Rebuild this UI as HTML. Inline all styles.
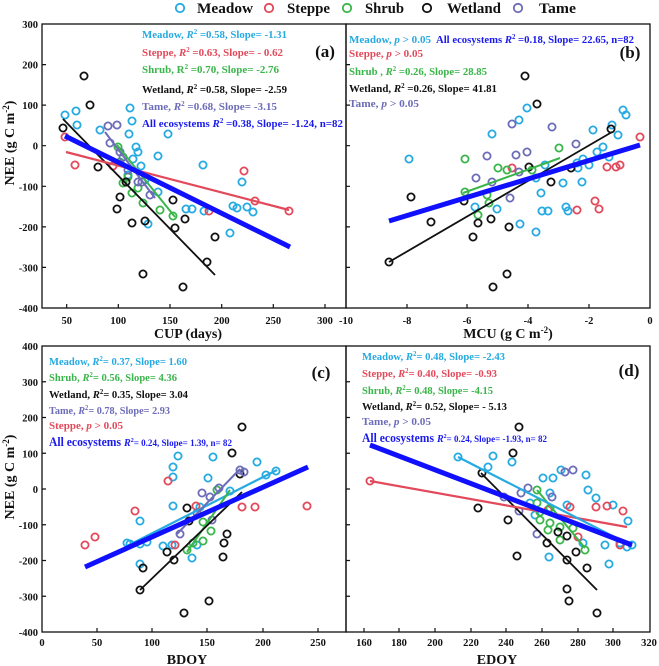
<!DOCTYPE html>
<html><head><meta charset="utf-8"><style>
html,body{margin:0;padding:0;background:#fff;}
svg{display:block;}
text{font-family:"Liberation Serif",serif;font-weight:bold;}
</style></head><body>
<svg width="659" height="666" viewBox="0 0 659 666" xmlns="http://www.w3.org/2000/svg">
<!-- Legend -->
<g fill="none" stroke-width="1.8">
<circle cx="180" cy="8" r="4.2" stroke="#25aae1"/>
<circle cx="269" cy="8" r="4.2" stroke="#e2495a"/>
<circle cx="347" cy="8" r="4.2" stroke="#39b54a"/>
<circle cx="427" cy="8" r="4.2" stroke="#111"/>
<circle cx="518" cy="8" r="4.2" stroke="#6c6cb8"/>
</g>
<g font-size="15" fill="#111">
<text x="197" y="13" textLength="56" lengthAdjust="spacingAndGlyphs">Meadow</text>
<text x="287" y="13" textLength="43" lengthAdjust="spacingAndGlyphs">Steppe</text>
<text x="365" y="13" textLength="39" lengthAdjust="spacingAndGlyphs">Shrub</text>
<text x="447" y="13" textLength="54" lengthAdjust="spacingAndGlyphs">Wetland</text>
<text x="539" y="13" textLength="37" lengthAdjust="spacingAndGlyphs">Tame</text>
</g>

<!-- Frames -->
<g fill="none" stroke="#111" stroke-width="1.3">
<rect x="42" y="24" width="304" height="284"/>
<rect x="346" y="24" width="304" height="284"/>
<rect x="42" y="346" width="304" height="286"/>
<rect x="346" y="346" width="304" height="286"/>
</g>

<!-- Ticks -->
<g stroke="#111" stroke-width="1.2">
<!-- top row y ticks -->
<path d="M42 64.6h4M42 105.1h4M42 145.7h4M42 186.3h4M42 226.9h4M42 267.4h4"/>
<path d="M346 64.6h4M346 105.1h4M346 145.7h4M346 186.3h4M346 226.9h4M346 267.4h4"/>
<!-- bottom row y ticks -->
<path d="M42 381.75h4M42 417.5h4M42 453.25h4M42 489h4M42 524.75h4M42 560.5h4M42 596.25h4"/>
<path d="M346 381.75h4M346 417.5h4M346 453.25h4M346 489h4M346 524.75h4M346 560.5h4M346 596.25h4"/>
<!-- a x ticks -->
<path d="M66.7 308v-4M118.3 308v-4M170 308v-4M221.7 308v-4M273.3 308v-4M325 308v-4"/>
<!-- b x ticks -->
<path d="M407 308v-4M467 308v-4M528 308v-4M589 308v-4"/>
<!-- c x ticks -->
<path d="M97 632v-4M152 632v-4M207 632v-4M263 632v-4M318 632v-4"/>
<!-- d x ticks -->
<path d="M364 632v-4M399 632v-4M435 632v-4M471 632v-4M506 632v-4M542 632v-4M578 632v-4M613 632v-4"/>
</g>

<!-- Tick labels -->
<g font-size="10.5" fill="#111" text-anchor="end">
<text x="38" y="28">300</text><text x="38" y="68.6">200</text><text x="38" y="109.1">100</text><text x="38" y="149.7">0</text>
<text x="38" y="190.3">-100</text><text x="38" y="230.9">-200</text><text x="38" y="271.4">-300</text><text x="38" y="312">-400</text>
<text x="38" y="350">400</text><text x="38" y="385.75">300</text><text x="38" y="421.5">200</text><text x="38" y="457.25">100</text><text x="38" y="493">0</text>
<text x="38" y="528.75">-100</text><text x="38" y="564.5">-200</text><text x="38" y="600.25">-300</text><text x="38" y="636">-400</text>
</g>
<g font-size="10.5" fill="#111" text-anchor="middle">
<text x="66.7" y="324">50</text><text x="118.3" y="324">100</text><text x="170" y="324">150</text><text x="221.7" y="324">200</text><text x="273.3" y="324">250</text><text x="325" y="324">300</text>
<text x="346" y="324">-10</text><text x="407" y="324">-8</text><text x="467" y="324">-6</text><text x="528" y="324">-4</text><text x="589" y="324">-2</text><text x="650" y="324">0</text>
<text x="42" y="646">0</text><text x="97" y="646">50</text><text x="152" y="646">100</text><text x="207" y="646">150</text><text x="263" y="646">200</text><text x="318" y="646">250</text>
<text x="364" y="646">160</text><text x="399" y="646">180</text><text x="435" y="646">200</text><text x="471" y="646">220</text><text x="506" y="646">240</text><text x="542" y="646">260</text><text x="578" y="646">280</text><text x="613" y="646">300</text><text x="649" y="646">320</text>
</g>

<!-- Axis titles -->
<g font-size="14" fill="#111" text-anchor="middle">
<text x="188" y="338">CUP (days)</text>
<text x="508" y="338">MCU (g C m<tspan font-size="9" dy="-5">-2</tspan><tspan dy="5">)</tspan></text>
<text x="187" y="664">BDOY</text>
<text x="497" y="664">EDOY</text>
<text transform="translate(14,143) rotate(-90)">NEE (g C m<tspan font-size="9" dy="-5">-2</tspan><tspan dy="5">)</tspan></text>
<text transform="translate(14,477) rotate(-90)">NEE (g C m<tspan font-size="9" dy="-5">-2</tspan><tspan dy="5">)</tspan></text>
</g>

<!-- Panel labels -->
<g font-size="17" fill="#111" text-anchor="middle">
<text x="325" y="57">(a)</text>
<text x="630" y="58">(b)</text>
<text x="321" y="378">(c)</text>
<text x="629" y="376">(d)</text>
</g>

<!-- ===== Panel a ===== -->
<g fill="none" stroke-width="1.8">
<g stroke="#25aae1">
<circle cx="65" cy="115" r="3.6"/><circle cx="76" cy="111" r="3.6"/><circle cx="77" cy="125" r="3.6"/><circle cx="100" cy="130" r="3.6"/>
<circle cx="130" cy="108" r="3.6"/><circle cx="132" cy="121" r="3.6"/><circle cx="129" cy="134" r="3.6"/><circle cx="136" cy="147" r="3.6"/>
<circle cx="133" cy="159" r="3.6"/><circle cx="141" cy="166" r="3.6"/><circle cx="158" cy="156" r="3.6"/><circle cx="168" cy="134" r="3.6"/>
<circle cx="158" cy="192" r="3.6"/><circle cx="148" cy="224" r="3.6"/><circle cx="186" cy="209" r="3.6"/><circle cx="192" cy="209" r="3.6"/>
<circle cx="203" cy="165" r="3.6"/><circle cx="204" cy="211" r="3.6"/><circle cx="230" cy="233" r="3.6"/><circle cx="233" cy="206" r="3.6"/>
<circle cx="237" cy="208" r="3.6"/><circle cx="242" cy="182" r="3.6"/><circle cx="247" cy="207" r="3.6"/><circle cx="253" cy="212" r="3.6"/>
<circle cx="138" cy="152" r="3.6"/><circle cx="128" cy="175" r="3.6"/><circle cx="145" cy="180" r="3.6"/>
</g>
<g stroke="#e2495a">
<circle cx="65" cy="137" r="3.6"/><circle cx="75" cy="165" r="3.6"/><circle cx="113" cy="166" r="3.6"/><circle cx="209" cy="211" r="3.6"/>
<circle cx="244" cy="171" r="3.6"/><circle cx="255" cy="201" r="3.6"/><circle cx="289" cy="211" r="3.6"/>
</g>
<g stroke="#39b54a">
<circle cx="118" cy="147" r="3.6"/><circle cx="120" cy="162" r="3.6"/><circle cx="128" cy="177" r="3.6"/><circle cx="123" cy="183" r="3.6"/>
<circle cx="138" cy="188" r="3.6"/><circle cx="143" cy="203" r="3.6"/><circle cx="160" cy="210" r="3.6"/><circle cx="173" cy="216" r="3.6"/><circle cx="132" cy="193" r="3.6"/>
</g>
<g stroke="#111">
<circle cx="63" cy="128" r="3.6"/><circle cx="84" cy="76" r="3.6"/><circle cx="90" cy="105" r="3.6"/><circle cx="98" cy="167" r="3.6"/>
<circle cx="117" cy="209" r="3.6"/><circle cx="120" cy="197" r="3.6"/><circle cx="126" cy="182" r="3.6"/><circle cx="132" cy="223" r="3.6"/>
<circle cx="143" cy="274" r="3.6"/><circle cx="145" cy="221" r="3.6"/><circle cx="173" cy="200" r="3.6"/><circle cx="175" cy="228" r="3.6"/>
<circle cx="183" cy="287" r="3.6"/><circle cx="185" cy="219" r="3.6"/><circle cx="207" cy="262" r="3.6"/><circle cx="215" cy="237" r="3.6"/>
</g>
<g stroke="#6c6cb8">
<circle cx="108" cy="126" r="3.6"/><circle cx="117" cy="125" r="3.6"/><circle cx="110" cy="143" r="3.6"/><circle cx="120" cy="152" r="3.6"/>
<circle cx="123" cy="157" r="3.6"/><circle cx="128" cy="170" r="3.6"/><circle cx="138" cy="182" r="3.6"/><circle cx="150" cy="195" r="3.6"/><circle cx="142" cy="182" r="3.6"/>
</g>
</g>
<g stroke-linecap="butt">
<line x1="105" y1="132" x2="155" y2="198" stroke="#6c6cb8" stroke-width="2"/>
<line x1="117" y1="145" x2="175" y2="217" stroke="#39b54a" stroke-width="2"/>
<line x1="63" y1="119" x2="215" y2="275" stroke="#111" stroke-width="1.8"/>
<line x1="66" y1="152" x2="289" y2="210" stroke="#e2495a" stroke-width="2.2"/>
<line x1="65" y1="136" x2="290" y2="247" stroke="#1010ff" stroke-width="5"/>
</g>
<g font-size="11">
<text x="142" y="38" fill="#25aae1" textLength="145" lengthAdjust="spacingAndGlyphs">Meadow, <tspan font-style="italic">R</tspan><tspan font-size="7" dy="-4">2</tspan><tspan dy="4"> =0.58, Slope= -1.31</tspan></text>
<text x="142" y="56" fill="#e2495a" textLength="141" lengthAdjust="spacingAndGlyphs">Steppe, <tspan font-style="italic">R</tspan><tspan font-size="7" dy="-4">2</tspan><tspan dy="4"> =0.63, Slope= - 0.62</tspan></text>
<text x="142" y="73" fill="#39b54a" textLength="137" lengthAdjust="spacingAndGlyphs">Shrub, R<tspan font-size="7" dy="-4">2</tspan><tspan dy="4"> =0.70, Slope= -2.76</tspan></text>
<text x="142" y="93" fill="#111" textLength="145" lengthAdjust="spacingAndGlyphs">Wetland, <tspan font-style="italic">R</tspan><tspan font-size="7" dy="-4">2</tspan><tspan dy="4"> =0.58, Slope= -2.59</tspan></text>
<text x="142" y="110" fill="#6c6cb8" textLength="135" lengthAdjust="spacingAndGlyphs">Tame,  <tspan font-style="italic">R</tspan><tspan font-size="7" dy="-4">2</tspan><tspan dy="4"> =0.68, Slope= -3.15</tspan></text>
<text x="142" y="127" fill="#1a1aee" textLength="201" lengthAdjust="spacingAndGlyphs">All ecosystems  <tspan font-style="italic">R</tspan><tspan font-size="7" dy="-4">2</tspan><tspan dy="4"> =0.38, Slope= -1.24, n=82</tspan></text>
</g>

<!-- ===== Panel b ===== -->
<g fill="none" stroke-width="1.8">
<g stroke="#25aae1">
<circle cx="409" cy="159" r="3.6"/><circle cx="492" cy="134" r="3.6"/><circle cx="519" cy="120" r="3.6"/><circle cx="527" cy="108" r="3.6"/>
<circle cx="475" cy="207" r="3.6"/><circle cx="497" cy="209" r="3.6"/><circle cx="520" cy="224" r="3.6"/><circle cx="536" cy="232" r="3.6"/>
<circle cx="541" cy="193" r="3.6"/><circle cx="542" cy="211" r="3.6"/><circle cx="548" cy="211" r="3.6"/><circle cx="536" cy="178" r="3.6"/>
<circle cx="545" cy="165" r="3.6"/><circle cx="563" cy="183" r="3.6"/><circle cx="566" cy="207" r="3.6"/><circle cx="568" cy="211" r="3.6"/>
<circle cx="577" cy="163" r="3.6"/><circle cx="578" cy="168" r="3.6"/><circle cx="582" cy="182" r="3.6"/><circle cx="583" cy="159" r="3.6"/>
<circle cx="589" cy="165" r="3.6"/><circle cx="593" cy="130" r="3.6"/><circle cx="597" cy="152" r="3.6"/><circle cx="603" cy="147" r="3.6"/>
<circle cx="609" cy="157" r="3.6"/><circle cx="612" cy="125" r="3.6"/><circle cx="618" cy="135" r="3.6"/><circle cx="623" cy="110" r="3.6"/><circle cx="626" cy="115" r="3.6"/>
</g>
<g stroke="#e2495a">
<circle cx="640" cy="137" r="3.6"/><circle cx="607" cy="167" r="3.6"/><circle cx="616" cy="167" r="3.6"/><circle cx="620" cy="165" r="3.6"/>
<circle cx="595" cy="201" r="3.6"/><circle cx="599" cy="209" r="3.6"/><circle cx="577" cy="210" r="3.6"/><circle cx="512" cy="168" r="3.6"/>
</g>
<g stroke="#39b54a">
<circle cx="465" cy="159" r="3.6"/><circle cx="559" cy="148" r="3.6"/><circle cx="498" cy="168" r="3.6"/><circle cx="507" cy="170" r="3.6"/>
<circle cx="532" cy="170" r="3.6"/><circle cx="465" cy="192" r="3.6"/><circle cx="478" cy="215" r="3.6"/><circle cx="487" cy="195" r="3.6"/><circle cx="489" cy="203" r="3.6"/>
</g>
<g stroke="#111">
<circle cx="525" cy="76" r="3.6"/><circle cx="537" cy="104" r="3.6"/><circle cx="611" cy="129" r="3.6"/><circle cx="529" cy="167" r="3.6"/>
<circle cx="571" cy="168" r="3.6"/><circle cx="551" cy="182" r="3.6"/><circle cx="464" cy="201" r="3.6"/><circle cx="411" cy="197" r="3.6"/>
<circle cx="431" cy="222" r="3.6"/><circle cx="478" cy="223" r="3.6"/><circle cx="491" cy="219" r="3.6"/><circle cx="509" cy="227" r="3.6"/>
<circle cx="473" cy="237" r="3.6"/><circle cx="389" cy="262" r="3.6"/><circle cx="507" cy="274" r="3.6"/><circle cx="493" cy="287" r="3.6"/>
</g>
<g stroke="#6c6cb8">
<circle cx="512" cy="124" r="3.6"/><circle cx="552" cy="127" r="3.6"/><circle cx="576" cy="144" r="3.6"/><circle cx="487" cy="156" r="3.6"/>
<circle cx="516" cy="155" r="3.6"/><circle cx="527" cy="152" r="3.6"/><circle cx="476" cy="178" r="3.6"/><circle cx="492" cy="182" r="3.6"/>
<circle cx="519" cy="172" r="3.6"/><circle cx="510" cy="198" r="3.6"/>
</g>
</g>
<g>
<line x1="463" y1="193" x2="560" y2="158" stroke="#39b54a" stroke-width="2"/>
<line x1="389" y1="262" x2="612" y2="132" stroke="#111" stroke-width="1.8"/>
<line x1="389" y1="221" x2="640" y2="145" stroke="#1010ff" stroke-width="5"/>
</g>
<g font-size="11">
<text x="349" y="43" fill="#25aae1" textLength="82" lengthAdjust="spacingAndGlyphs">Meadow, <tspan font-style="italic">p</tspan> &gt; 0.05</text>
<text x="436" y="43" fill="#1a1aee" textLength="198" lengthAdjust="spacingAndGlyphs">All ecosystems <tspan font-style="italic">R</tspan><tspan font-size="7" dy="-4">2</tspan><tspan dy="4"> =0.18, Slope= 22.65, n=82</tspan></text>
<text x="349" y="57" fill="#e2495a" textLength="74" lengthAdjust="spacingAndGlyphs">Steppe,  <tspan font-style="italic">p</tspan> &gt; 0.05</text>
<text x="349" y="75" fill="#39b54a" textLength="138" lengthAdjust="spacingAndGlyphs">Shrub , <tspan font-style="italic">R</tspan><tspan font-size="7" dy="-4">2</tspan><tspan dy="4"> =0.26, Slope= 28.85</tspan></text>
<text x="349" y="92" fill="#111" textLength="148" lengthAdjust="spacingAndGlyphs">Wetland,  <tspan font-style="italic">R</tspan><tspan font-size="7" dy="-4">2</tspan><tspan dy="4"> =0.26, Slope= 41.81</tspan></text>
<text x="349" y="107" fill="#6c6cb8" textLength="70" lengthAdjust="spacingAndGlyphs">Tame,  <tspan font-style="italic">p</tspan> &gt; 0.05</text>
</g>

<!-- ===== Panel c ===== -->
<g fill="none" stroke-width="1.8">
<g stroke="#25aae1">
<circle cx="173" cy="477" r="3.6"/><circle cx="173" cy="467" r="3.6"/><circle cx="178" cy="456" r="3.6"/><circle cx="213" cy="457" r="3.6"/>
<circle cx="208" cy="478" r="3.6"/><circle cx="257" cy="462" r="3.6"/><circle cx="266" cy="475" r="3.6"/><circle cx="276" cy="471" r="3.6"/>
<circle cx="173" cy="506" r="3.6"/><circle cx="140" cy="521" r="3.6"/><circle cx="130" cy="544" r="3.6"/><circle cx="140" cy="544" r="3.6"/>
<circle cx="147" cy="542" r="3.6"/><circle cx="140" cy="564" r="3.6"/><circle cx="163" cy="546" r="3.6"/><circle cx="172" cy="545" r="3.6"/>
<circle cx="192" cy="558" r="3.6"/><circle cx="197" cy="545" r="3.6"/><circle cx="200" cy="507" r="3.6"/><circle cx="230" cy="491" r="3.6"/><circle cx="127" cy="543" r="3.6"/>
</g>
<g stroke="#e2495a">
<circle cx="85" cy="545" r="3.6"/><circle cx="95" cy="537" r="3.6"/><circle cx="135" cy="511" r="3.6"/><circle cx="168" cy="481" r="3.6"/>
<circle cx="196" cy="506" r="3.6"/><circle cx="242" cy="507" r="3.6"/><circle cx="255" cy="507" r="3.6"/><circle cx="307" cy="506" r="3.6"/><circle cx="175" cy="545" r="3.6"/>
</g>
<g stroke="#39b54a">
<circle cx="217" cy="490" r="3.6"/><circle cx="187" cy="550" r="3.6"/><circle cx="203" cy="541" r="3.6"/><circle cx="211" cy="531" r="3.6"/>
<circle cx="193" cy="543" r="3.6"/><circle cx="203" cy="522" r="3.6"/>
</g>
<g stroke="#111">
<circle cx="242" cy="427" r="3.6"/><circle cx="232" cy="453" r="3.6"/><circle cx="240" cy="474" r="3.6"/><circle cx="187" cy="508" r="3.6"/>
<circle cx="189" cy="521" r="3.6"/><circle cx="167" cy="552" r="3.6"/><circle cx="174" cy="560" r="3.6"/><circle cx="227" cy="534" r="3.6"/>
<circle cx="224" cy="543" r="3.6"/><circle cx="223" cy="557" r="3.6"/><circle cx="143" cy="568" r="3.6"/><circle cx="140" cy="590" r="3.6"/>
<circle cx="209" cy="601" r="3.6"/><circle cx="184" cy="613" r="3.6"/>
</g>
<g stroke="#6c6cb8">
<circle cx="240" cy="470" r="3.6"/><circle cx="244" cy="472" r="3.6"/><circle cx="219" cy="488" r="3.6"/><circle cx="202" cy="493" r="3.6"/>
<circle cx="210" cy="497" r="3.6"/><circle cx="180" cy="534" r="3.6"/><circle cx="197" cy="513" r="3.6"/><circle cx="212" cy="520" r="3.6"/>
</g>
</g>
<g>
<line x1="127" y1="546" x2="277" y2="470" stroke="#25aae1" stroke-width="2.2"/>
<line x1="187" y1="552" x2="230" y2="490" stroke="#39b54a" stroke-width="2"/>
<line x1="177" y1="534" x2="240" y2="469" stroke="#6c6cb8" stroke-width="2"/>
<line x1="140" y1="590" x2="242" y2="492" stroke="#111" stroke-width="1.8"/>
<line x1="85" y1="567" x2="308" y2="467" stroke="#1010ff" stroke-width="5"/>
</g>
<g font-size="11">
<text x="49" y="365" fill="#25aae1" textLength="138" lengthAdjust="spacingAndGlyphs">Meadow, <tspan font-style="italic">R</tspan><tspan font-size="7" dy="-4">2</tspan><tspan dy="4">= 0.37, Slope= 1.60</tspan></text>
<text x="49" y="381" fill="#39b54a" textLength="128" lengthAdjust="spacingAndGlyphs">Shrub, <tspan font-style="italic">R</tspan><tspan font-size="7" dy="-4">2</tspan><tspan dy="4">= 0.56, Slope= 4.36</tspan></text>
<text x="49" y="398" fill="#111" textLength="139" lengthAdjust="spacingAndGlyphs">Wetland, <tspan font-style="italic">R</tspan><tspan font-size="7" dy="-4">2</tspan><tspan dy="4">= 0.35, Slope= 3.04</tspan></text>
<text x="49" y="414" fill="#6c6cb8" textLength="121" lengthAdjust="spacingAndGlyphs">Tame, <tspan font-style="italic">R</tspan><tspan font-size="7" dy="-4">2</tspan><tspan dy="4">= 0.78, Slope= 2.93</tspan></text>
<text x="49" y="429" fill="#e2495a" textLength="74" lengthAdjust="spacingAndGlyphs">Steppe,  <tspan font-style="italic">p</tspan> &gt; 0.05</text>
<text x="49" y="446" fill="#1a1aee" font-size="13" textLength="72" lengthAdjust="spacingAndGlyphs">All ecosystems</text>
<text x="124" y="446" fill="#1a1aee" font-size="9" textLength="108" lengthAdjust="spacingAndGlyphs"><tspan font-style="italic" font-size="10">R</tspan><tspan font-size="6" dy="-4">2</tspan><tspan dy="4">= 0.24, Slope= 1.39, n= 82</tspan></text>
</g>

<!-- ===== Panel d ===== -->
<g fill="none" stroke-width="1.8">
<g stroke="#25aae1">
<circle cx="458" cy="457" r="3.6"/><circle cx="488" cy="467" r="3.6"/><circle cx="493" cy="456" r="3.6"/><circle cx="512" cy="462" r="3.6"/>
<circle cx="543" cy="478" r="3.6"/><circle cx="553" cy="478" r="3.6"/><circle cx="561" cy="470" r="3.6"/><circle cx="586" cy="475" r="3.6"/>
<circle cx="588" cy="490" r="3.6"/><circle cx="596" cy="498" r="3.6"/><circle cx="613" cy="505" r="3.6"/><circle cx="628" cy="521" r="3.6"/>
<circle cx="567" cy="505" r="3.6"/><circle cx="550" cy="493" r="3.6"/><circle cx="535" cy="515" r="3.6"/><circle cx="549" cy="557" r="3.6"/>
<circle cx="583" cy="543" r="3.6"/><circle cx="605" cy="545" r="3.6"/><circle cx="609" cy="564" r="3.6"/><circle cx="620" cy="543" r="3.6"/>
<circle cx="632" cy="545" r="3.6"/><circle cx="627" cy="547" r="3.6"/><circle cx="530" cy="503" r="3.6"/>
</g>
<g stroke="#e2495a">
<circle cx="370" cy="481" r="3.6"/><circle cx="570" cy="507" r="3.6"/><circle cx="596" cy="507" r="3.6"/><circle cx="607" cy="506" r="3.6"/>
<circle cx="623" cy="511" r="3.6"/><circle cx="620" cy="545" r="3.6"/><circle cx="578" cy="537" r="3.6"/><circle cx="548" cy="510" r="3.6"/>
</g>
<g stroke="#39b54a">
<circle cx="537" cy="490" r="3.6"/><circle cx="537" cy="503" r="3.6"/><circle cx="550" cy="508" r="3.6"/><circle cx="540" cy="520" r="3.6"/>
<circle cx="550" cy="523" r="3.6"/><circle cx="560" cy="527" r="3.6"/><circle cx="560" cy="540" r="3.6"/><circle cx="573" cy="528" r="3.6"/>
<circle cx="585" cy="550" r="3.6"/><circle cx="548" cy="530" r="3.6"/><circle cx="540" cy="512" r="3.6"/>
</g>
<g stroke="#111">
<circle cx="519" cy="427" r="3.6"/><circle cx="513" cy="453" r="3.6"/><circle cx="482" cy="473" r="3.6"/><circle cx="478" cy="508" r="3.6"/>
<circle cx="508" cy="520" r="3.6"/><circle cx="517" cy="556" r="3.6"/><circle cx="547" cy="543" r="3.6"/><circle cx="567" cy="560" r="3.6"/>
<circle cx="576" cy="552" r="3.6"/><circle cx="587" cy="568" r="3.6"/><circle cx="567" cy="589" r="3.6"/><circle cx="569" cy="601" r="3.6"/>
<circle cx="597" cy="613" r="3.6"/><circle cx="558" cy="532" r="3.6"/><circle cx="567" cy="536" r="3.6"/>
</g>
<g stroke="#6c6cb8">
<circle cx="565" cy="472" r="3.6"/><circle cx="573" cy="470" r="3.6"/><circle cx="528" cy="488" r="3.6"/><circle cx="521" cy="493" r="3.6"/>
<circle cx="552" cy="497" r="3.6"/><circle cx="504" cy="497" r="3.6"/><circle cx="519" cy="511" r="3.6"/><circle cx="537" cy="534" r="3.6"/>
</g>
</g>
<g>
<line x1="537" y1="490" x2="585" y2="548" stroke="#39b54a" stroke-width="2"/>
<line x1="481" y1="473" x2="597" y2="590" stroke="#111" stroke-width="1.8"/>
<line x1="370" y1="481" x2="627" y2="527" stroke="#e2495a" stroke-width="2.2"/>
<line x1="458" y1="457" x2="632" y2="546" stroke="#25aae1" stroke-width="2.2"/>
<line x1="370" y1="445" x2="632" y2="545" stroke="#1010ff" stroke-width="5"/>
</g>
<g font-size="11">
<text x="362" y="360" fill="#25aae1" textLength="143" lengthAdjust="spacingAndGlyphs">Meadow, <tspan font-style="italic">R</tspan><tspan font-size="7" dy="-4">2</tspan><tspan dy="4">= 0.48, Slope= -2.43</tspan></text>
<text x="362" y="377" fill="#e2495a" textLength="135" lengthAdjust="spacingAndGlyphs">Steppe, <tspan font-style="italic">R</tspan><tspan font-size="7" dy="-4">2</tspan><tspan dy="4">= 0.40, Slope= -0.93</tspan></text>
<text x="362" y="394" fill="#39b54a" textLength="131" lengthAdjust="spacingAndGlyphs">Shrub, <tspan font-style="italic">R</tspan><tspan font-size="7" dy="-4">2</tspan><tspan dy="4">= 0.48, Slope= -4.15</tspan></text>
<text x="362" y="410" fill="#111" textLength="145" lengthAdjust="spacingAndGlyphs">Wetland, <tspan font-style="italic">R</tspan><tspan font-size="7" dy="-4">2</tspan><tspan dy="4">= 0.52, Slope= - 5.13</tspan></text>
<text x="362" y="425" fill="#6c6cb8" textLength="69" lengthAdjust="spacingAndGlyphs">Tame,  <tspan font-style="italic">p</tspan> &gt; 0.05</text>
<text x="362" y="442" fill="#1a1aee" font-size="13" textLength="72" lengthAdjust="spacingAndGlyphs">All ecosystems</text>
<text x="437" y="442" fill="#1a1aee" font-size="9" textLength="110" lengthAdjust="spacingAndGlyphs"><tspan font-style="italic" font-size="10">R</tspan><tspan font-size="6" dy="-4">2</tspan><tspan dy="4">= 0.24, Slope= -1.93, n= 82</tspan></text>
</g>
</svg>
</body></html>
